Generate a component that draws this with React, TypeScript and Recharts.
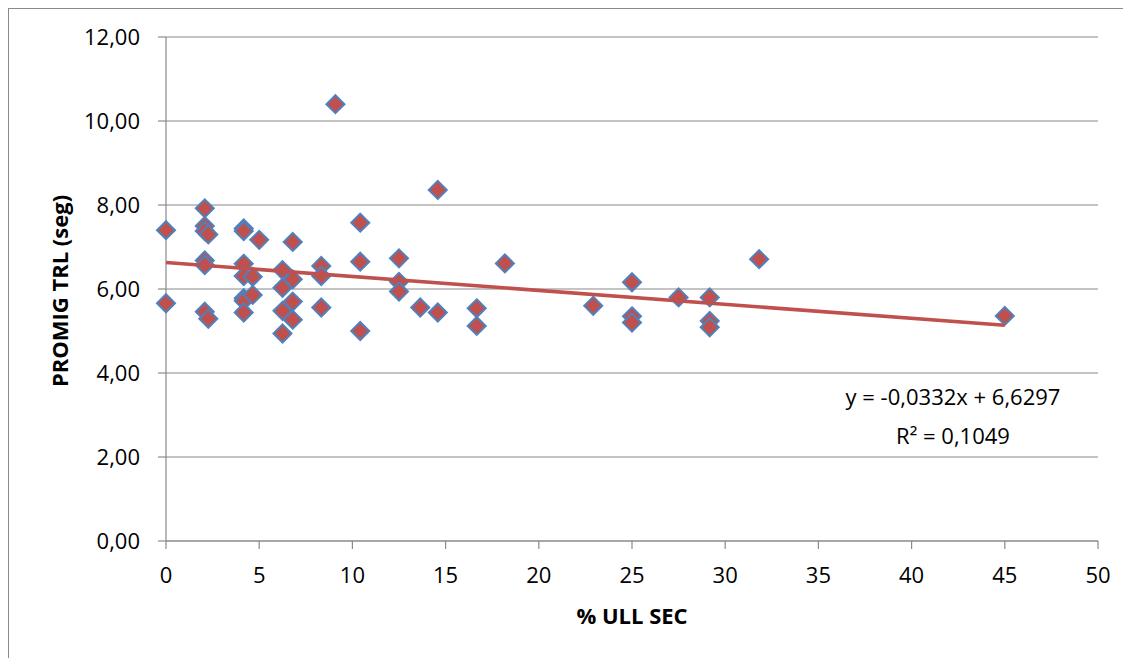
import {
  ScatterChart,
  Scatter,
  XAxis,
  YAxis,
  CartesianGrid,
} from 'recharts';

const F = '"Open Sans", sans-serif';
const GRID = '#8a8a8a';
const RED = '#C0504D';
const BLUE = '#4F81BD';

// % ULL SEC per subject
const ullSec = [
  0, 0, 2.08, 2.08, 2.08, 2.27, 2.08, 2.08, 2.08, 2.27,
  4.17, 4.17, 5.0, 4.17, 4.17, 4.65, 4.17, 4.17, 4.65, 4.17,
  6.8, 6.25, 6.8, 6.25, 6.8, 6.25, 6.8, 6.25, 8.33, 8.33,
  8.33, 9.09, 10.42, 10.42, 10.42, 12.5, 12.5, 12.5, 13.64, 14.58,
  14.58, 16.67, 16.67, 18.18, 22.92, 25.0, 25.0, 25.0, 27.5, 29.17,
  29.17, 29.17, 31.82, 45.0,
];

// PROMIG TRL (seg)
const promigTrl = [
  7.4, 5.66, 7.92, 7.5, 7.38, 7.3, 6.68, 6.57, 5.46, 5.29,
  7.44, 7.38, 7.17, 6.6, 6.31, 6.29, 5.78, 5.72, 5.86, 5.44,
  7.12, 6.45, 6.23, 6.03, 5.7, 5.48, 5.27, 4.94, 6.55, 6.31,
  5.56, 10.4, 7.58, 6.65, 5.0, 6.73, 6.17, 5.94, 5.56, 8.36,
  5.44, 5.54, 5.12, 6.61, 5.6, 6.16, 5.35, 5.2, 5.8, 5.8,
  5.24, 5.09, 6.71, 5.36,
];

// linear trendline endpoints (y = -0,0332x + 6,6297)
const trendX = [0, 45];
const trendY = [6.6297, 5.1357];

const xTicks = [0, 5, 10, 15, 20, 25, 30, 35, 40, 45, 50];
const yTicks = [0, 2, 4, 6, 8, 10, 12];

const points = ullSec.map((x, i) => ({ x, y: promigTrl[i] }));
const trend = trendX.map((x, i) => ({ x, y: trendY[i] }));

const Diamond = (props: { cx?: number; cy?: number }) => {
  const { cx = 0, cy = 0 } = props;
  const r = 9;
  return (
    <polygon
      points={`${cx},${cy - r} ${cx + r},${cy} ${cx},${cy + r} ${cx - r},${cy}`}
      fill={RED}
      stroke={BLUE}
      strokeWidth={2}
    />
  );
};

const comma = (v: number) => v.toFixed(2).replace('.', ',');

export default function App() {
  return (
    <div style={{ position: 'relative', width: 1123, height: 650 }}>
      <style>{'body{overflow:hidden}'}</style>
      <div
        style={{
          position: 'absolute',
          top: -1,
          left: -1,
          width: 1200,
          height: 800,
          border: `2px solid ${GRID}`,
        }}
      />
      <div style={{ position: 'absolute', top: 0, left: 0 }}>
        <ScatterChart width={1123} height={650} margin={{ top: 29, right: 33, bottom: 57, left: 78 }}>
          <CartesianGrid vertical={false} stroke={GRID} strokeWidth={1.2} />
          <XAxis
            type="number"
            dataKey="x"
            domain={[0, 50]}
            ticks={xTicks}
            interval={0}
            height={60}
            tickSize={8}
            tickMargin={18}
            axisLine={{ stroke: GRID, strokeWidth: 1.2 }}
            tickLine={{ stroke: GRID, strokeWidth: 1.2 }}
            tick={{ fontSize: 22, fill: '#000', fontFamily: F }}
            label={{
              position: 'bottom',
              content: () => (
                <text x={624} y={607} textAnchor="middle" dominantBaseline="central"
                  style={{ fontFamily: F, fontSize: 22, fontWeight: 700, fill: '#000' }}>
                  % ULL SEC
                </text>
              ),
            }}
          />
          <YAxis
            type="number"
            dataKey="y"
            domain={[0, 12]}
            ticks={yTicks}
            interval={0}
            width={80}
            tickSize={8}
            tickMargin={18}
            tickFormatter={comma}
            axisLine={{ stroke: GRID, strokeWidth: 1.2 }}
            tickLine={{ stroke: GRID, strokeWidth: 1.2 }}
            tick={{ fontSize: 22, fill: '#000', fontFamily: F }}
            label={{
              position: 'center',
              content: () => (
                <text x={51} y={283} transform="rotate(-90 51 283)" textAnchor="middle" dominantBaseline="central"
                  style={{ fontFamily: F, fontSize: 22, fontWeight: 700, fill: '#000' }}>
                  PROMIG TRL (seg)
                </text>
              ),
            }}
          />
          <Scatter data={points} shape={<Diamond />} isAnimationActive={false} />
          <Scatter
            data={trend}
            line={{ stroke: RED, strokeWidth: 3.6 }}
            shape={() => <g />}
            isAnimationActive={false}
          />
          <text x={945} y={397} textAnchor="middle" style={{ fontFamily: F, fontSize: 22, fill: '#000' }}>
            y = -0,0332x + 6,6297
          </text>
          <text x={945} y={436} textAnchor="middle" style={{ fontFamily: F, fontSize: 22, fill: '#000' }}>
            R² = 0,1049
          </text>
        </ScatterChart>
      </div>
    </div>
  );
}
